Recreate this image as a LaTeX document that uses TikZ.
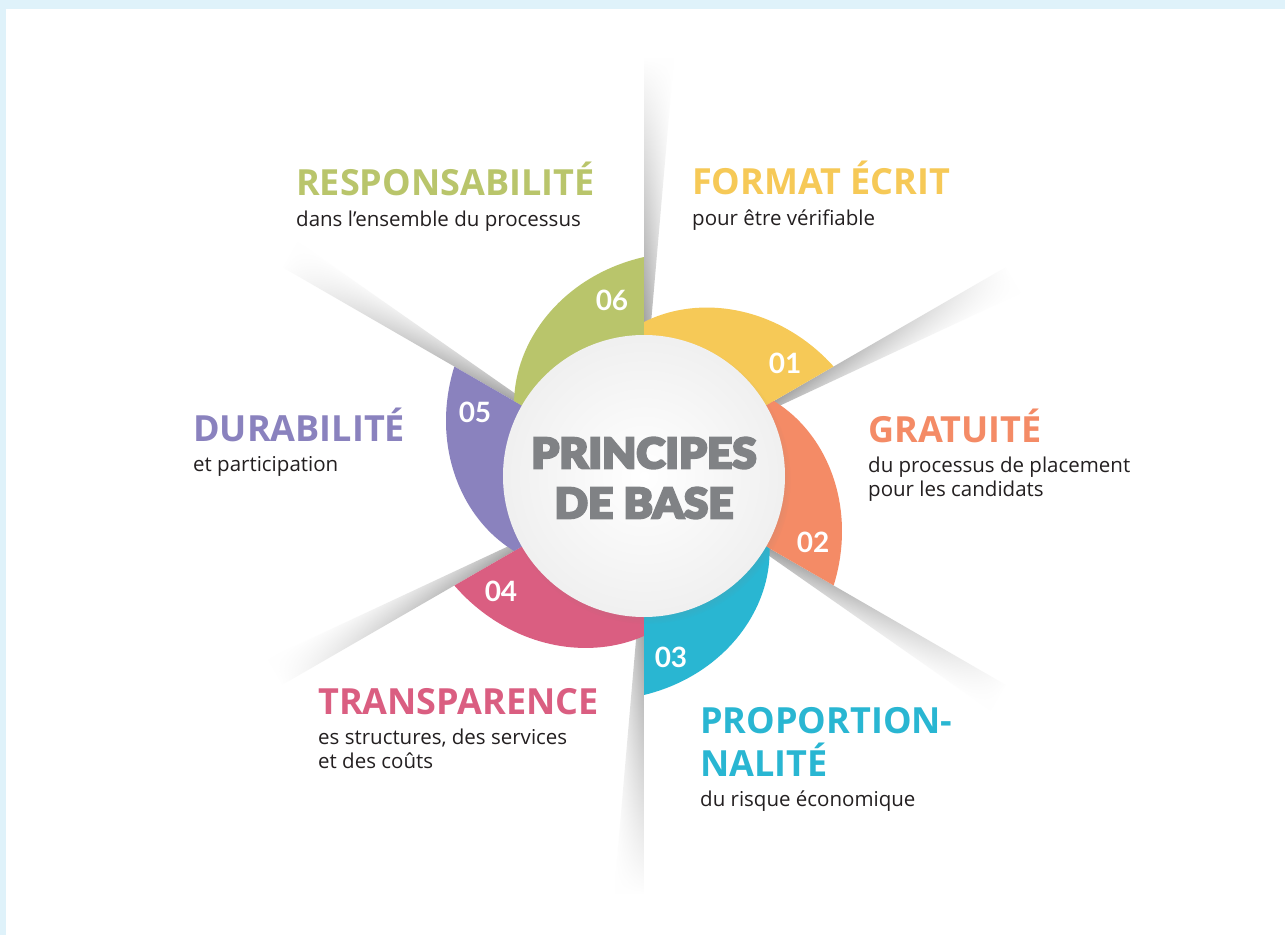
\documentclass[tikz,border=0pt]{standalone}
\usepackage{fontspec}
\setmainfont{Open Sans}
\newfontfamily\numfont{Lato}
\newfontfamily\heavyfont[FakeBold=5,FakeStretch=1.05]{Lato Black}
\usetikzlibrary{positioning,shadows,fadings}

\definecolor{frame}{HTML}{DFF2FA}
\definecolor{resp}{HTML}{B9C56B}
\definecolor{fmt}{HTML}{F6C957}
\definecolor{grat}{HTML}{F48B66}
\definecolor{prop}{HTML}{29B6D2}
\definecolor{trans}{HTML}{DA5E81}
\definecolor{dur}{HTML}{8A82BE}
\definecolor{core}{HTML}{808285}
\definecolor{ink}{HTML}{231F20}

\tikzfading[name=rayfade, top color=transparent!100, middle color=transparent!25, bottom color=transparent!0]

\begin{document}
\begin{tikzpicture}[x=1pt,y=1pt]
  \tikzstyle{every node}=[inner sep=0, anchor=base west]
  \tikzstyle{head}=[font=\fontsize{36}{36}\selectfont\bfseries]
  \tikzstyle{sub}=[font=\fontsize{20.5}{24}\selectfont, text=ink]
  \tikzstyle{num}=[font=\numfont\bfseries\fontsize{28}{28}\selectfont, text=white, anchor=center]
  \tikzstyle{ray}=[left color=gray!75, right color=white, path fading=rayfade]

  % page and frame
  \useasboundingbox (-644,-459) rectangle (641,476);
  \fill[white] (-644,-459) rectangle (641,476);
  \fill[frame] (-644,467) rectangle (641,476);
  \fill[frame] (-644,-459) rectangle (-638,476);

  % shadow rays
  \foreach \a in {90,30,-30,-90,-150,150} {
    \begin{scope}[transform canvas={rotate=\a-90}]
      \shade[ray] (0,141) -- (0,418) -- (30,418) -- (6,141) -- cycle;
    \end{scope}
  }

  % ring segments
  \foreach \a/\rin/\col in {90/154/fmt,30/150/grat,-30/145/prop,-90/160/trans,-150/150/dur,150/150/resp}
    \fill[\col] (0,0) -- plot[domain=0:1,samples=40] ({\a-60*\x}:{\rin+(219-\rin)*\x*(5-\x)/4}) -- cycle;

  % centre disc
  \node[circle, anchor=center, minimum size=282, inner color=white, outer color=gray!12,
        circular drop shadow={shadow xshift=3pt, shadow yshift=-4pt, opacity=0.35, shadow scale=1.02}]
        (core) at (0,0) {};
  \node[anchor=center, align=center, text=core, font=\heavyfont\fontsize{42}{50}\selectfont]
        (core-text) at ([yshift=-2]core.center) {PRINCIPES\\DE BASE};

  % numbers
  \node[num] (n1) at (141,113) {01};
  \node[num] (n2) at (169,-66) {02};
  \node[num] (n3) at (27,-181) {03};
  \node[num] (n4) at (-143,-115) {04};
  \node[num] (n5) at (-169,64) {05};
  \node[num] (n6) at (-32,176) {06};

  % labels
  \node[head, text=resp] (resp) at (-348,280) {RESPONSABILITÉ};
  \node[sub] (resp-sub) at ([yshift=-30]resp.base west) {dans l’ensemble du processus};

  \node[head, text=fmt] (fmt) at (48,281) {FORMAT ÉCRIT};
  \node[sub] (fmt-sub) at ([yshift=-30]fmt.base west) {pour être vérifiable};

  \node[head, text=dur] (dur) at (-451,35) {DURABILITÉ};
  \node[sub] (dur-sub) at ([yshift=-30]dur.base west) {et participation};

  \node[head, text=grat] (grat) at (224,34) {GRATUITÉ};
  \node[sub] (grat-sub) at ([yshift=-30]grat.base west) {du processus de placement};
  \node[sub] (grat-sub2) at ([yshift=-24]grat-sub.base west) {pour les candidats};

  \node[head, text=trans] (trans) at (-326,-238) {TRANSPARENCE};
  \node[sub] (trans-sub) at ([yshift=-30]trans.base west) {es structures, des services};
  \node[sub] (trans-sub2) at ([yshift=-24]trans-sub.base west) {et des coûts};

  \node[head, text=prop] (prop) at (56,-257) {PROPORTION-};
  \node[head, text=prop] (prop2) at ([yshift=-43]prop.base west) {NALITÉ};
  \node[sub] (prop-sub) at ([yshift=-30]prop2.base west) {du risque économique};
\end{tikzpicture}
\end{document}
